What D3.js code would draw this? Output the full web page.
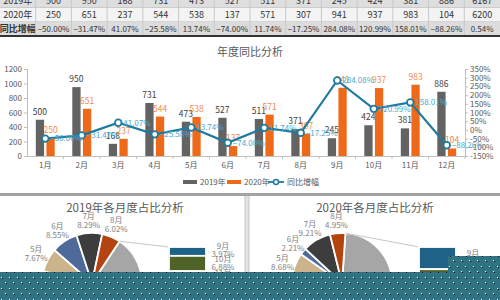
<!DOCTYPE html>
<html>
<head>
<meta charset="utf-8">
<script src="https://cdn.jsdelivr.net/npm/d3@7"></script>
<style>
body{margin:0;background:#fff;}
svg{display:block;font-family:"Noto Sans CJK SC","Noto Sans",sans-serif;}
</style>
</head>
<body>
<svg id="chart" width="500" height="300"></svg>
<script>
// data
var months = ["1月","2月","3月","4月","5月","6月","7月","8月","9月","10月","11月","12月"];
var sales2019 = [500,950,168,731,473,527,511,371,245,424,381,886];
var sales2020 = [250,651,237,544,538,137,571,307,941,937,983,104];
var growth = [-50.00,-31.47,41.07,-25.58,13.74,-74.00,11.74,-17.25,284.08,120.99,158.01,-88.26];
var total2019 = 6167, total2020 = 6200, totalGrowth = 0.54;
var rowLabels = ["2019年","2020年","同比增幅"];
var seriesNames = ["2019年","2020年","同比增幅"];
var leftTicks = [0,200,400,600,800,1000,1200];
var rightTicks = [-150,-100,-50,0,50,100,150,200,250,300,350];
var monthColors = ["#4f81bd","#ed7d31","#8c8c8c","#e6a23c","#cbb48c","#4e6a98","#3d3d3d","#b4440f",
                   "#1f6287","#4f6228","#7f5f1f","#2e4f7f"];

var svg = d3.select("#chart");
var W = 500, H = 300;
svg.append("rect").attr("width",W).attr("height",H).attr("fill","#fff");

// ---------- table at the top ----------
var table = svg.append("g").attr("font-size",9).attr("fill","#333");
var colX = d3.scaleBand().domain(d3.range(14)).range([0,W]);
var rowY = d3.scaleBand().domain(rowLabels).range([-6,36]);
var rowFill = {"2019年":"#dedede","2020年":"#f3f3f3","同比增幅":"#dcdcdc"};
var rows = [
  sales2019.concat([total2019]).map(String),
  sales2020.concat([total2020]).map(String),
  growth.concat([totalGrowth]).map(function(d){ return d3.format(".2f")(d)+"%"; })
];
rowLabels.forEach(function(lab,r){
  table.append("rect").attr("x",0).attr("y",rowY(lab)).attr("width",W)
    .attr("height",rowY.bandwidth()).attr("fill",rowFill[lab]);
  table.append("line").attr("x1",0).attr("x2",W)
    .attr("y1",rowY(lab)+rowY.bandwidth()).attr("y2",rowY(lab)+rowY.bandwidth())
    .attr("stroke","#b8b8b8");
  table.append("text").attr("x",colX(0)+colX.bandwidth()/2)
    .attr("y",rowY(lab)+rowY.bandwidth()/2).attr("dy","0.35em")
    .attr("text-anchor","middle").attr("font-weight",r==2?"bold":null).text(lab);
  rows[r].forEach(function(v,i){
    table.append("text").attr("x",colX(i+1)+colX.bandwidth()/2)
      .attr("y",rowY(lab)+rowY.bandwidth()/2).attr("dy","0.35em")
      .attr("text-anchor","middle").attr("font-size",r==2?8:9).text(v);
  });
});
d3.range(1,14).forEach(function(i){
  table.append("line").attr("x1",colX(i)).attr("x2",colX(i)).attr("y1",-6).attr("y2",36)
    .attr("stroke","#c8c8c8");
});
svg.append("rect").attr("x",0).attr("y",35).attr("width",W).attr("height",2).attr("fill","#333");

// ---------- combo chart ----------
var x0 = d3.scaleBand().domain(months).range([27,465]);
var x1 = d3.scaleBand().domain(["2019年","2020年"]).range([0,x0.bandwidth()])
  .paddingInner(0.22).paddingOuter(0.83);
var yL = d3.scaleLinear().domain([0,1200]).range([156,69]);
var yR = d3.scaleLinear().domain([-150,350]).range([156,69]);

svg.append("text").attr("x",250).attr("y",52).attr("dy","0.35em").attr("text-anchor","middle")
  .attr("font-size",11).attr("fill","#595959").text("年度同比分析");

var gL = svg.append("g").attr("transform","translate(27,0)")
  .call(d3.axisLeft(yL).tickValues(leftTicks).tickSize(3).tickPadding(2).tickFormat(d3.format("d")));
var gR = svg.append("g").attr("transform","translate(465,0)")
  .call(d3.axisRight(yR).tickValues(rightTicks).tickSize(3).tickPadding(2)
    .tickFormat(function(d){ return d+"%"; }));
var gB = svg.append("g").attr("transform","translate(0,156)")
  .call(d3.axisBottom(x0).tickSize(0).tickPadding(6));
[gL,gR,gB].forEach(function(g){
  g.selectAll("path,line").attr("stroke","#bfbfbf");
  g.selectAll("text").attr("fill","#595959").attr("font-size",8)
    .attr("font-family","\"Noto Sans CJK SC\",sans-serif");
});
gB.selectAll(".sep").data(months).enter().append("line")
  .attr("x1",function(d){ return x0(d)+x0.step(); })
  .attr("x2",function(d){ return x0(d)+x0.step(); })
  .attr("y1",0).attr("y2",3).attr("stroke","#bfbfbf");

var barSeries = [
  {name:"2019年", values:sales2019, color:"#636363", label:"#404040"},
  {name:"2020年", values:sales2020, color:"#ee6a18", label:"#f08a4c"}
];
barSeries.forEach(function(s){
  var g = svg.append("g");
  g.selectAll("rect").data(s.values).enter().append("rect")
    .attr("x",function(d,i){ return x0(months[i])+x1(s.name); })
    .attr("y",function(d){ return yL(d); })
    .attr("width",x1.bandwidth())
    .attr("height",function(d){ return yL(0)-yL(d); })
    .attr("fill",s.color);
  g.selectAll("text").data(s.values).enter().append("text")
    .attr("x",function(d,i){ return x0(months[i])+x1(s.name)+x1.bandwidth()/2; })
    .attr("y",function(d){ return yL(d)-5; })
    .attr("text-anchor","middle").attr("font-size",8.5).attr("fill",s.label)
    .text(function(d){ return d; });
});

var cx = function(d,i){ return x0(months[i])+x0.bandwidth()/2; };
var line = d3.line().x(cx).y(function(d){ return yR(d); });
svg.append("path").datum(growth).attr("d",line).attr("fill","none")
  .attr("stroke","#1f7aa0").attr("stroke-width",2.2);
svg.append("g").selectAll("circle").data(growth).enter().append("circle")
  .attr("cx",cx).attr("cy",function(d){ return yR(d); }).attr("r",3.3)
  .attr("fill","#fff").attr("stroke","#1f7aa0").attr("stroke-width",1.8);
svg.append("g").selectAll("text").data(growth).enter().append("text")
  .attr("x",function(d,i){ return cx(d,i)+5; })
  .attr("y",function(d){ return yR(d); }).attr("dy","0.35em")
  .attr("font-size",8).attr("fill","#4aa9d0")
  .text(function(d){ return d3.format(".2f")(d)+"%"; });

// legend
var legend = svg.append("g").attr("font-size",8).attr("fill","#595959");
var lx = [183,227,268];
seriesNames.forEach(function(n,i){
  var g = legend.append("g").attr("transform","translate("+lx[i]+",182)");
  if(i<2){
    g.append("rect").attr("x",0).attr("y",-2).attr("width",14).attr("height",4)
      .attr("fill",barSeries[i].color);
    g.append("text").attr("x",17).attr("dy","0.35em").text(n);
  } else {
    g.append("line").attr("x1",0).attr("x2",16).attr("stroke","#1f7aa0").attr("stroke-width",1.8);
    g.append("circle").attr("cx",8).attr("r",2.5).attr("fill","#fff")
      .attr("stroke","#1f7aa0").attr("stroke-width",1.5);
    g.append("text").attr("x",19).attr("dy","0.35em").text(n);
  }
});

// separators
svg.append("rect").attr("x",0).attr("y",193).attr("width",W).attr("height",3).attr("fill","#a3a3a3");
svg.append("rect").attr("x",245).attr("y",196).attr("width",4).attr("height",104).attr("fill","#e3e3e3");
svg.append("line").attr("x1",245).attr("x2",245).attr("y1",196).attr("y2",300).attr("stroke","#c4c4c4");
svg.append("line").attr("x1",249).attr("x2",249).attr("y1",196).attr("y2",300).attr("stroke","#c4c4c4");

// ---------- bar-of-pie charts ----------
function drawPie(values,total,title,ox){
  var g = svg.append("g").attr("transform","translate("+ox+",0)");
  g.append("text").attr("x",125).attr("y",208).attr("dy","0.35em").attr("text-anchor","middle")
    .attr("font-size",11.5).attr("fill","#595959").text(title);
  var pcx = 92, pcy = 283, r = 50;
  var rest = values.slice(8), otherSum = d3.sum(rest);
  var data = [{m:"其他", v:otherSum, c:"#a6a6a6"}].concat(values.slice(0,8).map(function(v,i){
    return {m:months[i], v:v, c:monthColors[i]};
  }));
  var a = otherSum/total*Math.PI*2;
  var pie = d3.pie().sort(null).value(function(d){ return d.v; })
    .startAngle(Math.PI/2-a/2).endAngle(Math.PI/2-a/2+Math.PI*2);
  var arcs = pie(data);
  var arc = d3.arc().innerRadius(0).outerRadius(r);
  var pg = g.append("g").attr("transform","translate("+pcx+","+pcy+")");
  pg.selectAll("path").data(arcs).enter().append("path").attr("d",arc)
    .attr("fill",function(d){ return d.data.c; }).attr("stroke","#fff").attr("stroke-width",1.8);
  var lab = d3.arc().innerRadius(63).outerRadius(63);
  arcs.slice(1).forEach(function(d){
    var p = lab.centroid(d);
    var t = pg.append("text").attr("text-anchor","middle").attr("font-size",8).attr("fill","#7f7f7f");
    t.append("tspan").attr("x",p[0]).attr("y",p[1]-1.5).text(d.data.m);
    t.append("tspan").attr("x",p[0]).attr("y",p[1]+7.5).text(d3.format(".2%")(d.data.v/total));
  });
  // stacked bar of the rest
  var bx = 169, bw = 37;
  var yb = d3.scaleLinear().domain([0,otherSum]).range([247,317]);
  var cum = [0].concat(Array.from(d3.cumsum(rest)));
  var th0 = Math.PI/2-a/2, th1 = Math.PI/2+a/2;
  g.append("line").attr("x1",pcx+r*Math.sin(th0)).attr("y1",pcy-r*Math.cos(th0))
    .attr("x2",bx).attr("y2",yb(0)).attr("stroke","#c8c8c8");
  g.append("line").attr("x1",pcx+r*Math.sin(th1)).attr("y1",pcy-r*Math.cos(th1))
    .attr("x2",bx).attr("y2",yb(otherSum)).attr("stroke","#c8c8c8");
  rest.forEach(function(v,i){
    g.append("rect").attr("x",bx).attr("y",yb(cum[i])).attr("width",bw)
      .attr("height",yb(cum[i+1])-yb(cum[i])).attr("fill",monthColors[8+i])
      .attr("stroke","#fff").attr("stroke-width",1.8);
    var my = (yb(cum[i])+yb(cum[i+1]))/2;
    var t = g.append("text").attr("text-anchor","middle").attr("font-size",8).attr("fill","#7f7f7f");
    t.append("tspan").attr("x",bx+bw+17).attr("y",my-2).text(months[8+i]);
    t.append("tspan").attr("x",bx+bw+17).attr("y",my+6).text(d3.format(".2%")(v/total));
  });
}
drawPie(sales2019,total2019,"2019年各月度占比分析",0);
drawPie(sales2020,total2020,"2020年各月度占比分析",250);

// ---------- dotted band covering the bottom of the picture ----------
var defs = svg.append("defs");
var pat = defs.append("pattern").attr("id","dots").attr("width",8).attr("height",11)
  .attr("patternUnits","userSpaceOnUse");
pat.append("rect").attr("width",8).attr("height",11).attr("fill","#2f7282");
[[1,2,"#fff"],[2,3,"#111"],[5,7,"#fff"],[6,8,"#111"]].forEach(function(p){
  pat.append("rect").attr("x",p[0]).attr("y",p[1]).attr("width",1).attr("height",1).attr("fill",p[2]);
});
svg.append("path").attr("d","M0,272H448V256H500V300H0Z").attr("fill","url(#dots)");
</script>
</body>
</html>
